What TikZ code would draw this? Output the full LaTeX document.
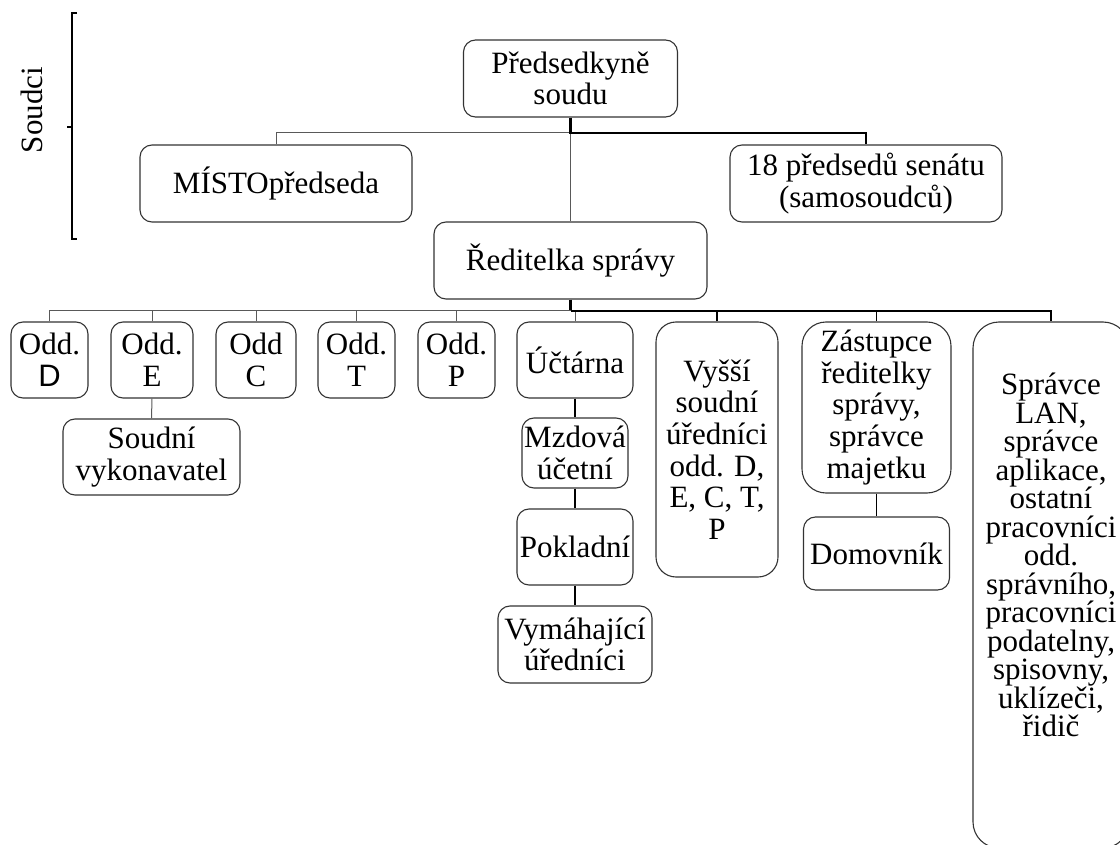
\documentclass[tikz,border=0pt]{standalone}
\usepackage{fontspec}
\setmainfont{Liberation Serif}
\setsansfont{Liberation Sans}
\begin{document}
\begin{tikzpicture}[x=1pt,y=-1pt,
  box/.style={draw=black!80, line width=1.1pt, rounded corners=12pt, inner sep=0pt, align=center,
    font=\rmfamily\fontsize{31}{31.7}\selectfont},
  thin/.style={draw=black!65, line width=1pt},
  thick/.style={draw=black, line width=2.4pt},
  mid/.style={draw=black, line width=1.8pt}]
\useasboundingbox (0,0) rectangle (1120,845);

% bracket
\node[font=\rmfamily\fontsize{31}{31.7}\selectfont, rotate=90] (soudci) at (32,110) {Soudci};
\coordinate (bt) at (72,13);
\coordinate (bb) at (72,239);
\coordinate (bm) at (72,127);
\draw[line width=1.5pt] ([xshift=5pt]bt) -- (bt) -- (bb) -- ([xshift=5pt]bb);
\draw[line width=1.5pt] (bm) -- ([xshift=-5pt]bm);

% top level
\node[box, minimum width=214pt, minimum height=77pt] (pred) at (570.5,78.5) {Předsedkyně\\soudu};
\node[box, minimum width=272pt, minimum height=77pt] (misto) at (276,183.5) {MÍSTOpředseda};
\node[box, minimum width=272pt, minimum height=77pt] (p18) at (866,183.5) {18 předsedů senátu\\(samosoudců)};
\node[box, minimum width=273pt, minimum height=77pt] (red) at (570.5,260.5) {Ředitelka správy};

% row
\node[box, minimum width=77pt, minimum height=76pt] (oddD) at (49.5,360) {Odd.\\{\sffamily D}};
\node[box, minimum width=82pt, minimum height=76pt] (oddE) at (152,360) {Odd.\\E};
\node[box, minimum width=80pt, minimum height=76pt] (oddC) at (256,360) {Odd\\C};
\node[box, minimum width=77pt, minimum height=76pt] (oddT) at (356.5,360) {Odd.\\T};
\node[box, minimum width=77pt, minimum height=76pt] (oddP) at (456.5,360) {Odd.\\P};
\node[box, minimum width=116pt, minimum height=76pt] (ucta) at (575,360) {Účtárna};
\node[box, rounded corners=20pt, minimum width=122pt, minimum height=255pt] (vys) at (717,449.5) {Vyšší\\soudní\\úředníci\\odd. D,\\E, C, T,\\P};
\node[box, rounded corners=24pt, minimum width=149pt, minimum height=171pt] (zas) at (876.5,407.5) {Zástupce\\ředitelky\\správy,\\správce\\majetku};
\node[box, rounded corners=26pt, minimum width=156pt, minimum height=526pt] (lan) at (1051,585) {};
\node[font=\rmfamily\fontsize{31}{28.5}\selectfont, align=center, inner sep=0pt, anchor=north] (lant) at (1051,373) {Správce\\LAN,\\správce\\aplikace,\\ostatní\\pracovníci\\odd.\\správního,\\pracovníci\\podatelny,\\spisovny,\\uklízeči,\\řidič};

% sub boxes
\node[box, minimum width=177pt, minimum height=76pt] (soud) at (151.5,457) {Soudní\\vykonavatel};
\node[box, minimum width=106pt, minimum height=70pt] (mzd) at (575,453) {Mzdová\\účetní};
\node[box, minimum width=116pt, minimum height=76pt] (pok) at (575,547) {Pokladní};
\node[box, minimum width=154pt, minimum height=77pt] (vym) at (575,644.5) {Vymáhající\\úředníci};
\node[box, minimum width=146pt, minimum height=73pt] (dom) at (876.5,553.5) {Domovník};

% top connectors
\coordinate (j1) at (570.5,133);
\draw[thin] (misto.north) |- (j1);
\draw[thin] (j1) -- (red.north);
\draw[thick] (pred.south) -- (j1) -| (p18.north);

% second bus
\coordinate (j2) at (570.5,311);
\draw[thick] (red.south) -- (j2);
\draw[thin] (oddD.north) |- (j2);
\draw[thin] (oddE.north) -- (oddE.north |- j2);
\draw[thin] (oddC.north) -- (oddC.north |- j2);
\draw[thin] (oddT.north) -- (oddT.north |- j2);
\draw[thin] (oddP.north) -- (oddP.north |- j2);
\draw[thin] (ucta.north) -- (ucta.north |- j2);
\draw[thick] (j2) -| (lan.north);
\draw[mid] (vys.north) -- (vys.north |- j2);
\draw[mid] (zas.north) -- (zas.north |- j2);

% sub connectors
\draw[thin] (oddE.south) -- (soud.north);
\draw[mid] (ucta.south) -- (mzd.north);
\draw[mid] (mzd.south) -- (pok.north);
\draw[mid] (pok.south) -- (vym.north);
\draw[mid] (zas.south) -- (dom.north);
\end{tikzpicture}
\end{document}
